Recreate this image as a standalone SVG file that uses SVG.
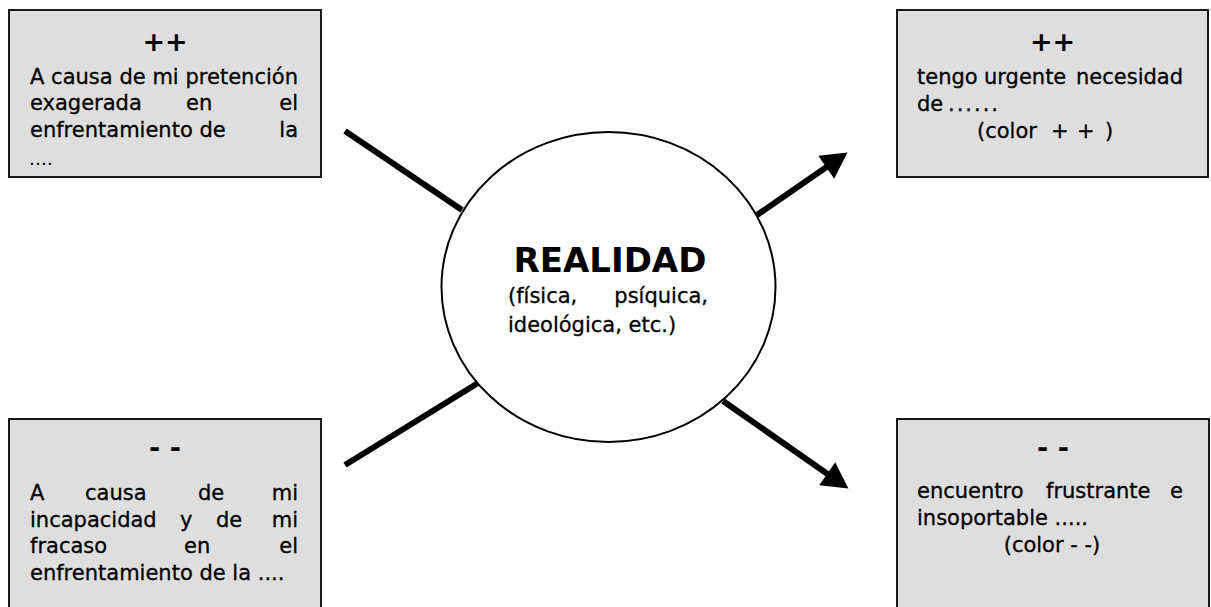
<svg xmlns="http://www.w3.org/2000/svg" width="1211" height="607" viewBox="0 0 1211 607">
<style>
.box{fill:#dedede;stroke:#1a1a1a;stroke-width:2}
.t{font-family:"DejaVu Sans","Verdana",sans-serif;font-size:21px;fill:#000;stroke:#000;stroke-width:0.3}
.h{font-family:"DejaVu Sans","Verdana",sans-serif;font-size:27px;font-weight:bold;fill:#000}
.big{font-family:"DejaVu Sans","Verdana",sans-serif;font-size:34px;font-weight:bold;fill:#000}
.con{stroke:#000;stroke-width:6;fill:none}
</style>
<defs>
<marker id="ah" markerUnits="userSpaceOnUse" markerWidth="28" markerHeight="28" viewBox="0 0 25 26" refX="2" refY="13" orient="auto">
<path d="M0,0 L24,13 L0,26 z" fill="#000"/>
</marker>
</defs>
<rect width="1211" height="607" fill="#fff"/>
<g id="connectors">
<line class="con" x1="345" y1="131" x2="462" y2="210"/>
<line class="con" x1="345" y1="465" x2="478" y2="383"/>
<line class="con" x1="757" y1="215" x2="828" y2="166" marker-end="url(#ah)"/>
<line class="con" x1="723" y1="401" x2="829" y2="475" marker-end="url(#ah)"/>
</g>
<g id="realidad">
<ellipse cx="608.5" cy="287" rx="167" ry="155" fill="#fff" stroke="#000" stroke-width="2"/>
<text class="big" x="610" y="272" text-anchor="middle">REALIDAD</text>
<text class="t" x="508" y="303">(física,</text>
<text class="t" x="708" y="303" text-anchor="end">psíquica,</text>
<text class="t" x="508" y="332">ideológica, etc.)</text>
</g>
<g id="box-top-left">
<rect class="box" x="9" y="10" width="312" height="167"/>
<text class="h" x="165" y="51" text-anchor="middle">++</text>
<text class="t" x="30" y="84" textLength="268" lengthAdjust="spacing">A causa de mi pretención</text>
<text class="t" x="30" y="110">exagerada</text>
<text class="t" x="186" y="110">en</text>
<text class="t" x="298" y="110" text-anchor="end">el</text>
<text class="t" x="30" y="137">enfrentamiento de</text>
<text class="t" x="298" y="137" text-anchor="end">la</text>
<text class="t" x="29" y="165" style="font-size:18px;stroke-width:0">….</text>
</g>
<g id="box-top-right">
<rect class="box" x="897" y="10" width="311" height="167"/>
<text class="h" x="1052.5" y="51" text-anchor="middle">++</text>
<text class="t" x="917" y="84">tengo</text>
<text class="t" x="984" y="84">urgente</text>
<text class="t" x="1183" y="84" text-anchor="end">necesidad</text>
<text class="t" x="917" y="111">de</text>
<text class="t" x="948" y="111" textLength="50" lengthAdjust="spacing">......</text>
<text class="t" y="138"><tspan x="977">(color</tspan><tspan x="1051">+</tspan><tspan x="1077">+</tspan><tspan x="1105">)</tspan></text>
</g>
<g id="box-bottom-left">
<rect class="box" x="9" y="419" width="312" height="200"/>
<text class="h" x="165" y="457" text-anchor="middle">- -</text>
<text class="t" x="30" y="500">A</text>
<text class="t" x="85" y="500">causa</text>
<text class="t" x="198" y="500">de</text>
<text class="t" x="298" y="500" text-anchor="end">mi</text>
<text class="t" x="30" y="527">incapacidad</text>
<text class="t" x="180" y="527">y</text>
<text class="t" x="216" y="527">de</text>
<text class="t" x="298" y="527" text-anchor="end">mi</text>
<text class="t" x="30" y="553">fracaso</text>
<text class="t" x="184" y="553">en</text>
<text class="t" x="298" y="553" text-anchor="end">el</text>
<text class="t" x="30" y="580">enfrentamiento de la ....</text>
</g>
<g id="box-bottom-right">
<rect class="box" x="897" y="419" width="312" height="200"/>
<text class="h" x="1053" y="457" text-anchor="middle">- -</text>
<text class="t" x="917" y="498">encuentro</text>
<text class="t" x="1046" y="498">frustrante</text>
<text class="t" x="1183" y="498" text-anchor="end">e</text>
<text class="t" x="917" y="525">insoportable .....</text>
<text class="t" x="1052" y="552" text-anchor="middle">(color - -)</text>
</g>
</svg>
